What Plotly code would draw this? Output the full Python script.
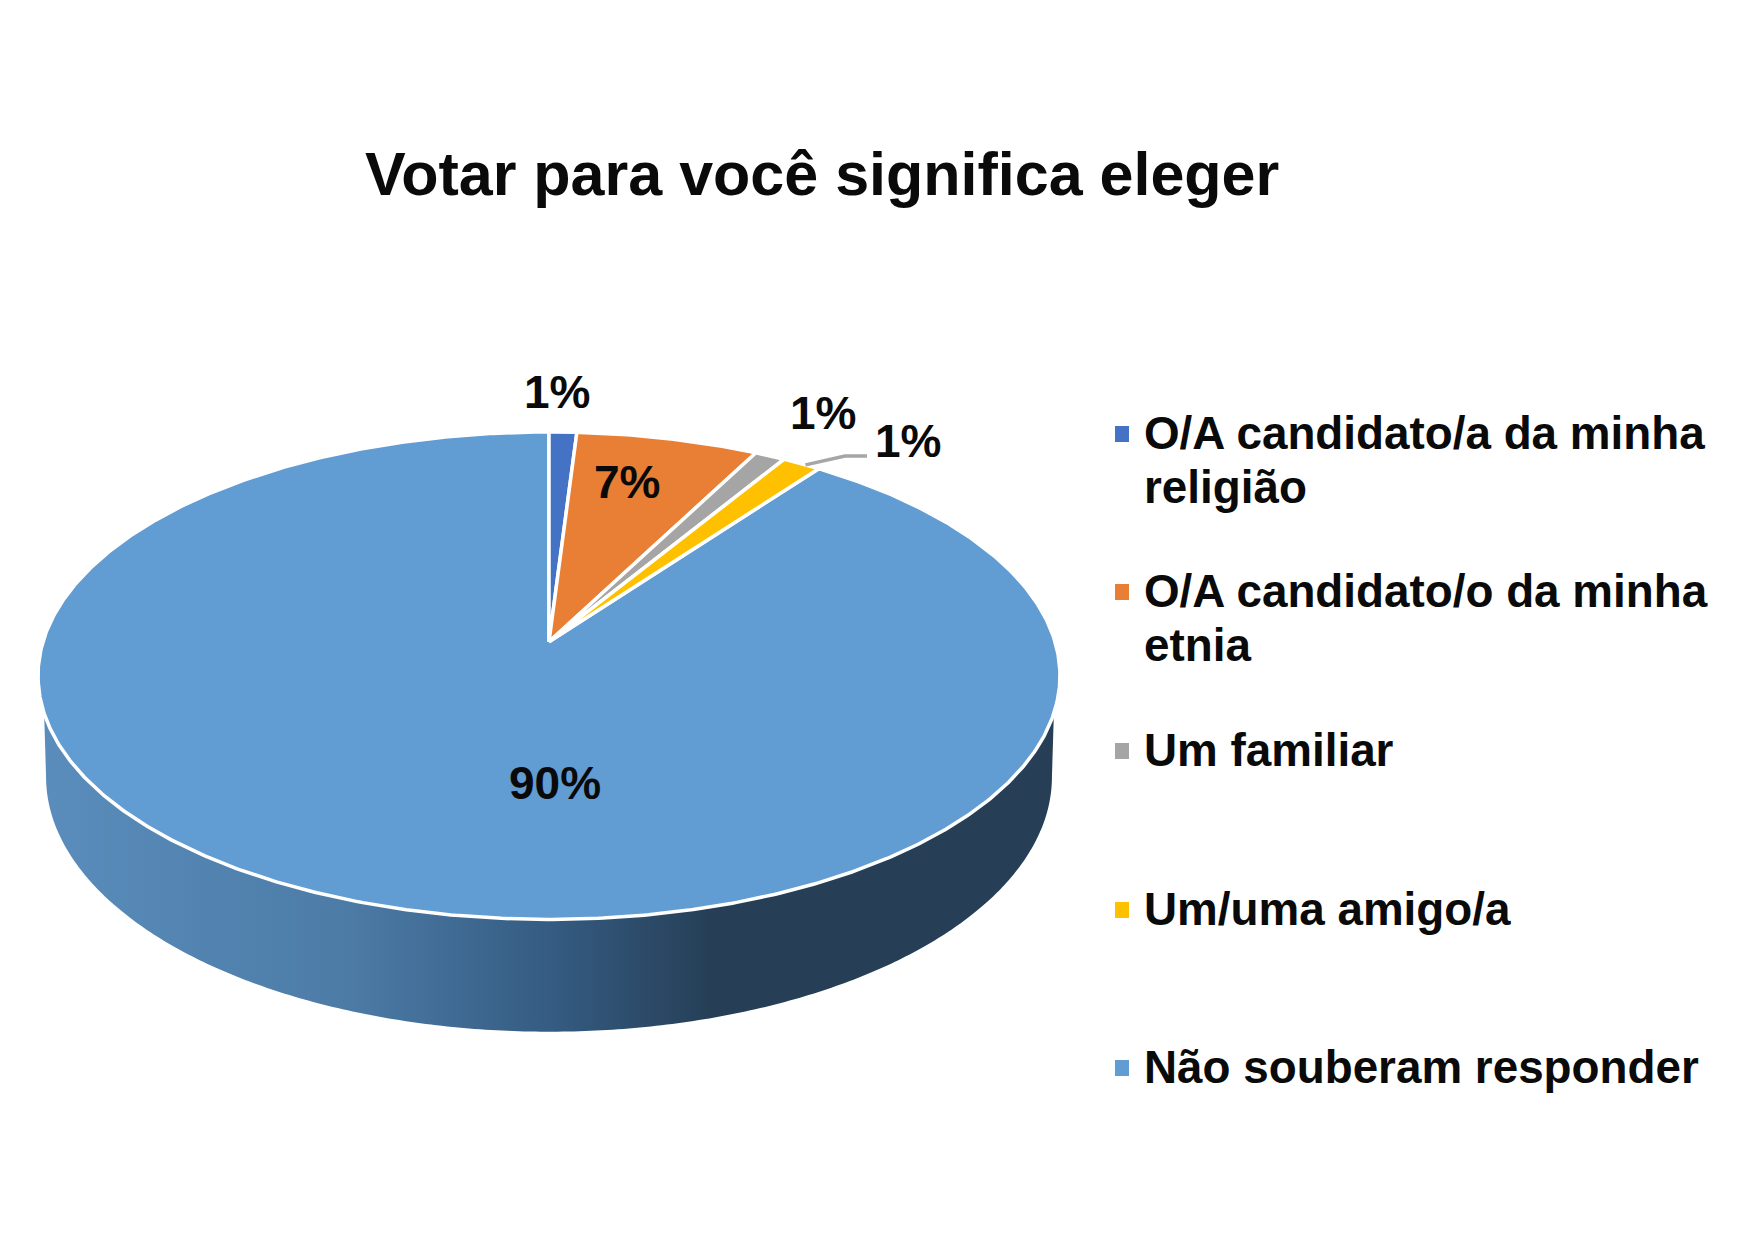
import numpy as np
import plotly.graph_objects as go

categories = ['O/A candidato/a da minha<br>religião', 'O/A candidato/o da minha<br>etnia',
              'Um familiar', 'Um/uma amigo/a', 'Não souberam responder']
values = [1.0, 6.6, 1.1, 1.4, 89.9]
slice_labels = ['1%', '7%', '1%', '1%', '90%']
colors = ['#4472C4', '#E97E35', '#A5A5A5', '#FFC000', '#619CD3']

title = 'Votar para você significa eleger'
font = 'Liberation Sans, Arial, sans-serif'

# where the labels sit on the page (moved by hand in the original)
label_x = [557, 627, 823, 908, 555]
label_y = [392, 482, 413, 441, 783]
legend_y = [433, 591, 750, 909, 1067]
line_gap = 54

# perspective of the disc, top face and bottom rim of the wall
cx = 549
top = dict(y0=641.7, r=506, b=239, k=0.1394)
bottom = dict(y0=741, r=498, b=250, k=0.14)


def rim(theta, p):
    # theta in radians, clockwise from 12 o'clock
    w = 1 + p['k'] * np.cos(theta)
    return cx + p['r'] * np.sin(theta) / w, p['y0'] - p['b'] * np.cos(theta) / w


fig = go.Figure()

# side wall, only the front part shows
xt, yt = rim(np.radians(np.linspace(106.7, 253.3, 300)), top)
xb, yb = rim(np.radians(np.linspace(98, 262, 300)), bottom)
fig.add_trace(go.Scatter(
    x=np.r_[xt, xb[::-1]], y=np.r_[yt, yb[::-1]],
    mode='none', fill='toself', hoverinfo='skip',
    fillgradient=dict(type='horizontal', start=45, stop=1055, colorscale=[
        [0, '#5A8DBC'], [0.3, '#4C7BA6'], [0.5, '#355C82'], [0.66, '#263F57'], [1, '#263F57']]),
))

# top face, one wedge per value
edges = np.cumsum([0] + values) / sum(values) * 2 * np.pi
for i in [4, 0, 1, 2, 3]:
    a = np.linspace(edges[i], edges[i + 1], max(4, int(values[i] * 8)))
    xr, yr = rim(a, top)
    fig.add_trace(go.Scatter(
        x=np.r_[cx, xr, cx], y=np.r_[top['y0'], yr, top['y0']],
        mode='lines', fill='toself', fillcolor=colors[i],
        line=dict(color='white', width=3.5), hoverinfo='skip',
    ))

# leader line for the yellow slice
lx, ly = rim((edges[3] + edges[4]) / 2 + 0.01, top)
fig.add_trace(go.Scatter(x=[lx, 845, 867], y=[ly, 456, 456], mode='lines',
                         line=dict(color='#A6A6A6', width=3.5), hoverinfo='skip'))

# slice labels
for i in range(len(values)):
    fig.add_annotation(x=label_x[i], y=label_y[i], text=slice_labels[i], showarrow=False,
                       font=dict(family=font, size=46, color='#0A0A0A', weight='bold'))

# legend
for i, name in enumerate(categories):
    fig.add_shape(type='rect', x0=1115, x1=1129, y0=legend_y[i] - 7, y1=legend_y[i] + 9,
                  fillcolor=colors[i], line_width=0)
    for j, part in enumerate(name.split('<br>')):
        fig.add_annotation(x=1142, y=legend_y[i] + j * line_gap, text=part, showarrow=False,
                           xanchor='left', font=dict(family=font, size=45.8, color='#0A0A0A', weight='bold'))

fig.add_annotation(x=822, y=174, text=title, showarrow=False,
                   font=dict(family=font, size=61, color='#0A0A0A', weight='bold'))

fig.update_xaxes(visible=False, range=[0, 1749])
fig.update_yaxes(visible=False, range=[1241, 0])
fig.update_layout(width=1749, height=1241, margin=dict(l=0, r=0, t=0, b=0),
                  paper_bgcolor='white', plot_bgcolor='white', showlegend=False)

fig.write_html("out.html", config={'displayModeBar': False},
               post_script="document.body.style.margin='0';")
